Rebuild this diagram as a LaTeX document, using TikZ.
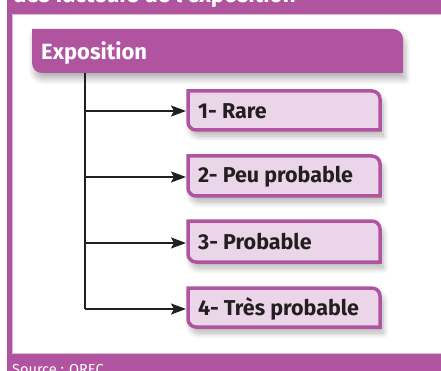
\documentclass[tikz,border=0pt]{standalone}
\usepackage{fontspec}
\setmainfont{Fira Sans}
\usetikzlibrary{arrows.meta,shadows.blur}
\definecolor{expurple}{HTML}{B054A0}
\definecolor{exlight}{HTML}{EBD5E9}
\definecolor{exdark}{HTML}{231F20}
\tikzset{
  boxtext/.style={inner sep=0pt, anchor=west, text=exdark, font=\bfseries\fontsize{21.5}{23}\selectfont},
  boxline/.style={draw=expurple, fill=exlight, line width=3.5pt, blur shadow={shadow xshift=3pt, shadow yshift=-6pt, shadow blur steps=10, shadow blur radius=6pt, shadow opacity=30}},
  conn/.style={draw=exdark, line width=1.8pt, -{Stealth[length=15pt,width=11pt,inset=3pt]}},
  trunk/.style={draw=exdark, line width=1.8pt},
}
\newcommand\diagshape[6]{% x1,y1,x2,y2,r,style
  \path[#6] (#1,#2) -- ({#3-#5},#2) arc[start angle=90,end angle=0,radius=#5pt] -- (#3,#4) -- ({#1+#5},#4) arc[start angle=270,end angle=180,radius=#5pt] -- cycle;
}
\begin{document}
\begin{tikzpicture}[x=1pt,y=1pt]
\useasboundingbox (0,0) rectangle (441,-371);
\begin{scope}
\clip (0,0) rectangle (441,-371);
% outer frame
\fill[expurple] (7,0) rectangle (441,-14);
\fill[expurple] (7,0) rectangle (12,-371);
\fill[expurple] (7,-354) rectangle (441,-371);
\draw[expurple!40, line width=1pt] (12.5,-14.5) -- (441,-14.5);
\draw[expurple!40, line width=1pt] (12.5,-14.5) -- (12.5,-353.5);
\draw[expurple!40, line width=1pt] (12.5,-353.5) -- (441,-353.5);
\node[anchor=base west, inner sep=0pt, text=white, font=\bfseries\fontsize{22.5}{24}\selectfont] (title) at (13,-2.5) {des facteurs de l'exposition};
\node[anchor=base west, inner sep=0pt, text=white, font=\fontsize{14.5}{16}\selectfont] (source) at (12,-374.5) {Source : OREC};
\end{scope}
% header
\diagshape{32}{-29}{403}{-73}{10}{fill=expurple, blur shadow={shadow xshift=2pt, shadow yshift=-6pt, shadow blur steps=10, shadow blur radius=6pt, shadow opacity=30}}
\node[anchor=base west, inner sep=0pt, text=white, font=\bfseries\fontsize{22}{24}\selectfont] (head) at (41,-59.5) {Exposition};
\coordinate (top) at (85,-73);
% boxes
\diagshape{188}{-91}{380}{-130}{8}{boxline}
\diagshape{188}{-156}{380}{-196}{8}{boxline}
\diagshape{188}{-221}{380}{-262}{8}{boxline}
\diagshape{188}{-288}{380}{-327}{8}{boxline}
\node[boxtext] (b1) at (198,-111) {1- Rare};
\node[boxtext] (b2) at (198,-177) {2- Peu probable};
\node[boxtext] (b3) at (198,-242) {3- Probable};
\node[boxtext] (b4) at (198,-309) {4- Très probable};
\coordinate (e1) at (186,-111);
\coordinate (e2) at (186,-177);
\coordinate (e3) at (186,-243);
\coordinate (e4) at (186,-309);
\coordinate (bot) at (85,-309);
\draw[trunk] (top) -- (bot);
\foreach \i in {1,...,4}{
  \draw[conn] (e\i -| top) -- (e\i);
}
\end{tikzpicture}
\end{document}
